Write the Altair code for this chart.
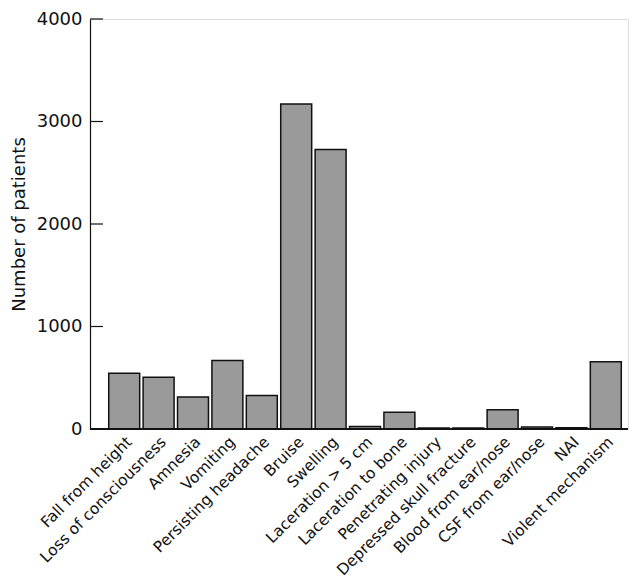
import altair as alt
import pandas as pd

categories = [
    "Fall from height", "Loss of consciousness", "Amnesia", "Vomiting",
    "Persisting headache", "Bruise", "Swelling", "Laceration > 5 cm",
    "Laceration to bone", "Penetrating injury", "Depressed skull fracture",
    "Blood from ear/nose", "CSF from ear/nose", "NAI", "Violent mechanism",
]
patients = [545, 505, 312, 668, 328, 3170, 2727, 25, 163, 10, 10, 188, 20, 12, 656]
y_ticks = [0, 1000, 2000, 3000, 4000]

df = pd.DataFrame({"cat": categories, "n": patients})
ticks_df = pd.DataFrame({"v": y_ticks})

W, H = 538, 410
FONT = "DejaVu Sans"

yscale = alt.Scale(domain=[0, 4000], nice=False)

bars = alt.Chart(df).mark_bar(
    fill="#9a9a9a", stroke="#111111", strokeWidth=1.5
).encode(
    x=alt.X("cat:N", sort=categories,
            scale=alt.Scale(range=[17, 533], paddingInner=0.1, paddingOuter=0.05),
            axis=alt.Axis(title=None, labelAngle=-45, labelAlign="right",
                          labelBaseline="top", ticks=False, tickSize=0,
                          domain=False, labelPadding=5, labelFontSize=15.5,
                          labelFont=FONT, labelColor="#111111", labelLimit=400)),
    y=alt.Y("n:Q", scale=yscale,
            axis=alt.Axis(title="Number of patients", values=y_ticks, format="d",
                          ticks=False, tickSize=0, labelPadding=8,
                          labelFontSize=18, labelFont=FONT, labelColor="#111111",
                          titleFontSize=18, titleFont=FONT, titleFontWeight="normal",
                          titleColor="#111111", titlePadding=8,
                          domainColor="#111111", domainWidth=1.2, grid=False)),
)

inner_ticks = alt.Chart(ticks_df).mark_rule(color="#111111", strokeWidth=1.2).encode(
    x=alt.value(0), x2=alt.value(13), y=alt.Y("v:Q", scale=yscale)
)

baseline = alt.Chart(ticks_df).mark_rule(color="#111111", strokeWidth=1.2).encode(
    x=alt.value(0), x2=alt.value(W), y=alt.datum(0)
)

chart = alt.layer(bars, inner_ticks, baseline).properties(
    width=W, height=H,
    autosize=alt.AutoSizeParams(type="none"),
    padding={"left": 82, "top": 11, "right": 4, "bottom": 152},
).configure_view(stroke=None).configure(background="white")

chart.save("out.html", embed_options={"renderer": "svg", "actions": False})
